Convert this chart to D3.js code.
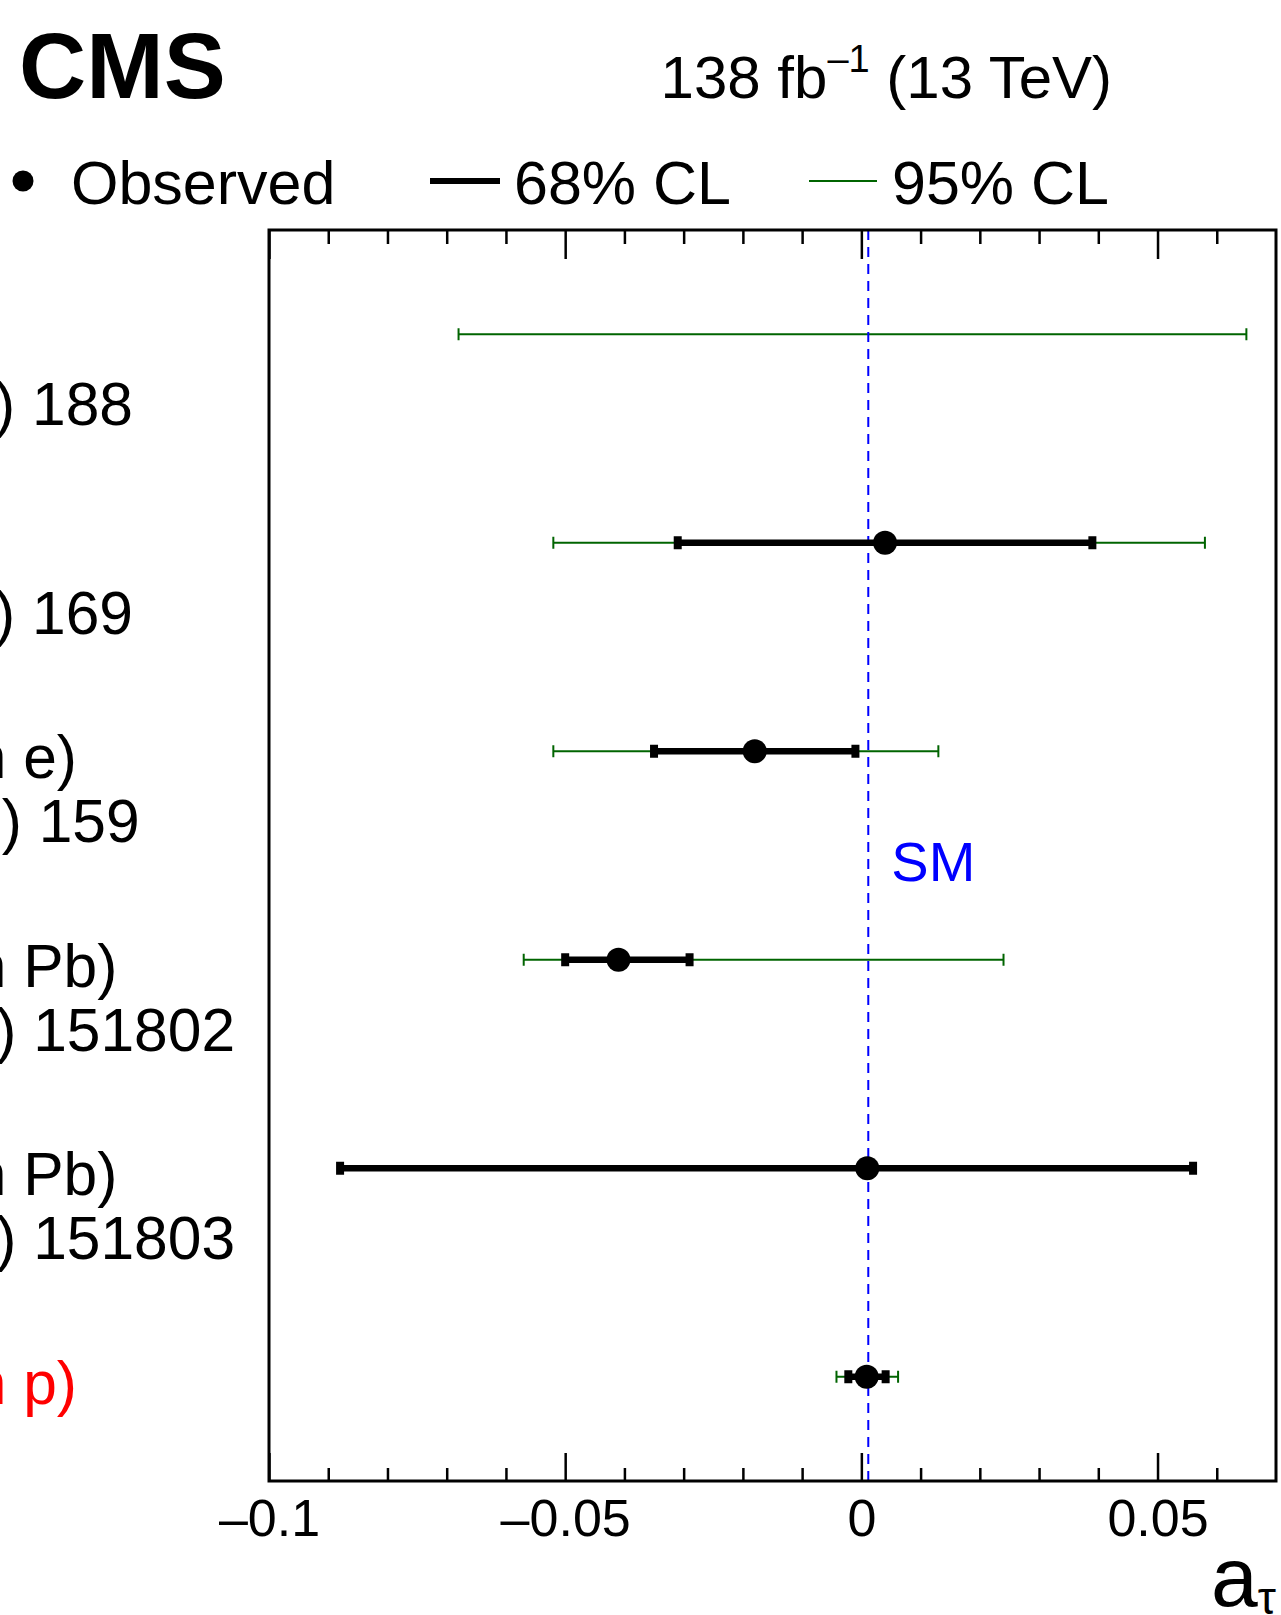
<!DOCTYPE html>
<html>
<head>
<meta charset="utf-8">
<script src="https://cdn.jsdelivr.net/npm/d3@7"></script>
<style>
  html, body { margin: 0; padding: 0; background: #fff; }
  svg { display: block; }
  text { font-family: "Liberation Sans", Arial, Helvetica, sans-serif; }
</style>
</head>
<body>
<div id="chart"></div>
<script>
// Measurements of the tau anomalous magnetic moment a_tau
const experiments = ["OPAL", "L3", "DELPHI", "ATLAS", "CMS", "CMS"];
const processes = ["(Z \u2192 \u03c4\u03c4\u03b3)", "(Z \u2192 \u03c4\u03c4\u03b3)", "(\u03b3\u03b3 \u2192 \u03c4\u03c4 in e)",
                   "(\u03b3\u03b3 \u2192 \u03c4\u03c4 in Pb)", "(\u03b3\u03b3 \u2192 \u03c4\u03c4 in Pb)", "(\u03b3\u03b3 \u2192 \u03c4\u03c4 in p)"];
const references = ["PLB 431 (1998) 188", "PLB 434 (1998) 169", "EPJC 35 (2004) 159",
                    "PRL 131 (2023) 151802", "PRL 131 (2023) 151803", ""];
const highlighted = [false, false, false, false, false, true];

const central = [null, 0.004, -0.018, -0.041, 0.001, 0.0009];
const lo68 = [null, -0.031, -0.035, -0.050, -0.088, -0.0022];
const hi68 = [null, 0.039, -0.001, -0.029, 0.056, 0.0041];
const lo95 = [-0.068, -0.052, -0.052, -0.057, null, -0.0042];
const hi95 = [0.065, 0.058, 0.013, 0.024, null, 0.0062];

const smValue = 0.00117;
const majorTicks = [-0.1, -0.05, 0, 0.05];
const minorTicks = [-0.09, -0.08, -0.07, -0.06, -0.04, -0.03, -0.02, -0.01, 0.01, 0.02, 0.03, 0.04, 0.06];
const tickLabels = ["\u20130.1", "\u20130.05", "0", "0.05"];

const W = 1281, H = 1615;
const frame = { left: 269, right: 1276, top: 230, bottom: 1481 };

const svg = d3.select("#chart").append("svg")
  .attr("width", W).attr("height", H);

const x = d3.scaleLinear().domain([-0.1, 0.07]).range([frame.left, frame.right]);
const rows = d3.range(experiments.length);
const y = d3.scaleBand().domain(rows).range([frame.top, frame.bottom]);
const yc = i => y(i) + y.bandwidth() / 2;

// Header
svg.append("text").attr("x", 19).attr("y", 98)
  .attr("font-size", 93).attr("font-weight", "bold").text("CMS");
const lumi = svg.append("text").attr("x", 1112).attr("y", 98)
  .attr("font-size", 60).attr("text-anchor", "end");
lumi.append("tspan").text("138 fb");
lumi.append("tspan").attr("font-size", 38).attr("dy", -26).text("\u20131");
lumi.append("tspan").attr("dy", 26).text(" (13 TeV)");

// Legend
const legY = 181;
svg.append("circle").attr("cx", 23).attr("cy", legY).attr("r", 10.5).attr("fill", "#000");
svg.append("text").attr("x", 71).attr("y", 204).attr("font-size", 61).text("Observed");
svg.append("line").attr("x1", 430).attr("x2", 500).attr("y1", legY).attr("y2", legY)
  .attr("stroke", "#000").attr("stroke-width", 6);
svg.append("text").attr("x", 514).attr("y", 204).attr("font-size", 61).text("68% CL");
svg.append("line").attr("x1", 809).attr("x2", 877).attr("y1", legY).attr("y2", legY)
  .attr("stroke", "#006400").attr("stroke-width", 2);
svg.append("text").attr("x", 892).attr("y", 204).attr("font-size", 61).text("95% CL");

// Row labels: experiment, process and publication reference
const labels = svg.append("g").attr("class", "labels");
const measure = (txt, size) => {
  const t = svg.append("text").attr("font-size", size).attr("x", 0).attr("y", -100).text(txt);
  const w = t.node().getComputedTextLength();
  t.remove();
  return w;
};
const refX = 133 - measure(references[0], 60.5);
const procX = 77 - measure(processes[2], 60.5);
rows.forEach(i => {
  const col = highlighted[i] ? "#ff0000" : "#000";
  labels.append("text").attr("x", procX - 260).attr("y", yc(i) + 27)
    .attr("font-size", 60.5).attr("fill", col).attr("text-anchor", "end").text(experiments[i]);
  labels.append("text").attr("x", procX).attr("y", yc(i) + 27)
    .attr("font-size", 60.5).attr("fill", col).text(processes[i]);
  if (references[i]) {
    labels.append("text").attr("x", refX).attr("y", yc(i) + 91)
      .attr("font-size", 60.5).attr("fill", col).text(references[i]);
  }
});

// Axes with inward ticks on bottom and top
const tickG = svg.append("g").attr("class", "axes");
const bottomMinor = d3.axisBottom(x).tickValues(minorTicks).tickSize(-13).tickFormat("");
const bottomMajor = d3.axisBottom(x).tickValues(majorTicks).tickSize(-28).tickFormat("");
const topMinor = d3.axisTop(x).tickValues(minorTicks).tickSize(-14).tickFormat("");
const topMajor = d3.axisTop(x).tickValues(majorTicks).tickSize(-29).tickFormat("");
[[bottomMinor, frame.bottom], [bottomMajor, frame.bottom], [topMinor, frame.top], [topMajor, frame.top]]
  .forEach(([ax, yy]) => {
    const g = tickG.append("g").attr("transform", `translate(0,${yy})`).call(ax);
    g.select(".domain").remove();
    g.selectAll(".tick line").attr("stroke", "#000").attr("stroke-width", 2.5);
  });
const labAxis = d3.axisBottom(x).tickValues(majorTicks).tickSize(0)
  .tickFormat((d, i) => tickLabels[i]);
const lg = svg.append("g").attr("transform", `translate(0,${frame.bottom})`).call(labAxis);
lg.select(".domain").remove();
lg.selectAll(".tick text").attr("font-size", 52).attr("fill", "#000")
  .attr("font-family", "'Liberation Sans', Arial, sans-serif").attr("dy", null).attr("y", 55);

// Axis title
const title = svg.append("text").attr("x", 1276).attr("y", 1606)
  .attr("text-anchor", "end").attr("font-size", 84);
title.append("tspan").text("a");
title.append("tspan").attr("font-size", 46).attr("dy", 8).text("\u03c4");

// 95% CL intervals
const g95 = svg.append("g");
rows.filter(i => lo95[i] !== null).forEach(i => {
  const cy = yc(i);
  g95.append("line").attr("x1", x(lo95[i])).attr("x2", x(hi95[i])).attr("y1", cy).attr("y2", cy)
    .attr("stroke", "#006400").attr("stroke-width", 2);
  [lo95[i], hi95[i]].forEach(v => {
    g95.append("line").attr("x1", x(v)).attr("x2", x(v)).attr("y1", cy - 6).attr("y2", cy + 6)
      .attr("stroke", "#006400").attr("stroke-width", 2);
  });
});

// Standard Model prediction
svg.append("line").attr("x1", x(smValue)).attr("x2", x(smValue))
  .attr("y1", frame.top).attr("y2", frame.bottom)
  .attr("stroke", "#0000ff").attr("stroke-width", 2).attr("stroke-dasharray", "10,7");
svg.append("text").attr("x", x(smValue) + 23).attr("y", 881)
  .attr("font-size", 56).attr("fill", "#0000ff").text("SM");

// 68% CL intervals
const g68 = svg.append("g");
rows.filter(i => lo68[i] !== null).forEach(i => {
  const cy = yc(i);
  g68.append("line").attr("x1", x(lo68[i])).attr("x2", x(hi68[i])).attr("y1", cy).attr("y2", cy)
    .attr("stroke", "#000").attr("stroke-width", 6.5);
  [lo68[i], hi68[i]].forEach(v => {
    g68.append("rect").attr("x", x(v) - 4).attr("y", cy - 6.5).attr("width", 8).attr("height", 13)
      .attr("fill", "#000");
  });
});

// Observed values
svg.append("g").selectAll("circle").data(rows.filter(i => central[i] !== null)).join("circle")
  .attr("cx", i => x(central[i])).attr("cy", i => yc(i)).attr("r", 12).attr("fill", "#000");

// Frame
svg.append("rect").attr("x", frame.left).attr("y", frame.top)
  .attr("width", frame.right - frame.left).attr("height", frame.bottom - frame.top)
  .attr("fill", "none").attr("stroke", "#000").attr("stroke-width", 3);
</script>
</body>
</html>
